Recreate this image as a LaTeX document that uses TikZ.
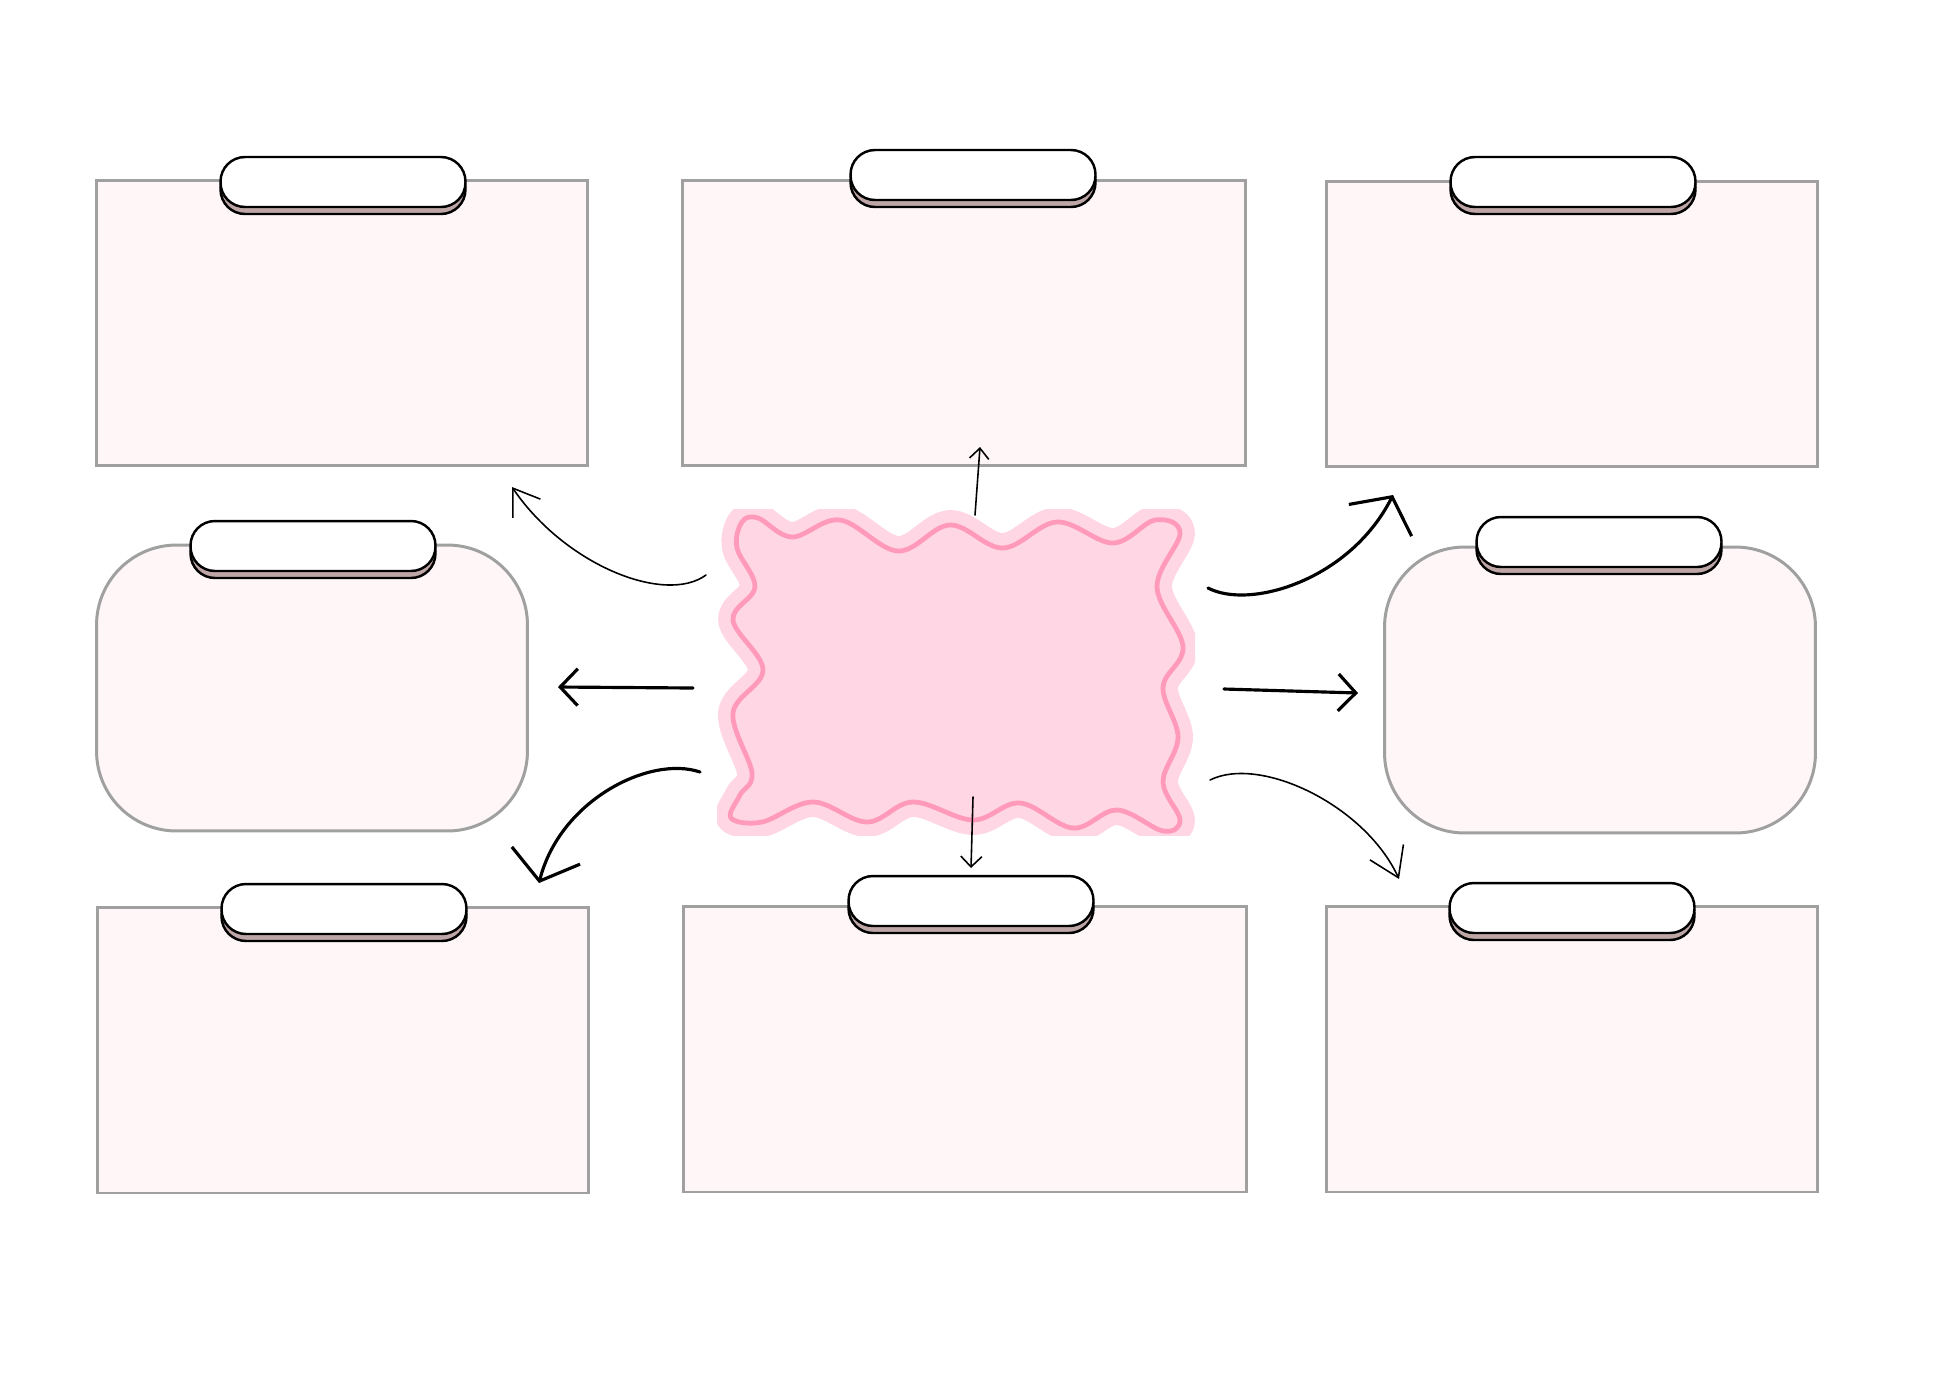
\documentclass[tikz,border=0pt]{standalone}
\usetikzlibrary{arrows.meta}
\definecolor{cardfill}{RGB}{254,246,247}
\definecolor{cardline}{RGB}{160,160,160}
\definecolor{shadecol}{RGB}{191,166,166}
\definecolor{blobpink}{RGB}{255,214,228}
\definecolor{blobrose}{RGB}{255,154,187}
\begin{document}
\begin{tikzpicture}[x=0.02cm,y=-0.02cm]

    \tikzset{
      card/.style={
        draw=cardline,
        fill=cardfill,
        line width=1.7pt,
        inner sep=0pt,
        minimum width=9.84cm,
        minimum height=5.72cm,
      },
      widecard/.style={card, minimum width=11.26cm},
      roundcard/.style={card, minimum width=8.62cm, rounded corners=1.6cm},
      tab/.style={
        draw=black,
        fill=white,
        line width=1.4pt,
        inner sep=0pt,
        minimum width=4.9cm,
        minimum height=1cm,
        rounded corners=0.49cm,
      },
      tabshade/.style={tab, fill=shadecol},
      blobband/.style={draw=blobpink, fill=blobpink, line width=17pt, line join=round},
      blobline/.style={draw=blobrose, line width=2.7pt},
      thinline/.style={line width=0.9pt, line cap=round},
      thickline/.style={line width=1.8pt, line cap=round},
      barb/.style 2 args={-{Straight Barb[length=#1,width=#2]}},
    }
    \useasboundingbox (0,0) rectangle (1946,1377);

	% cards
	\node[card] (nw) at (342,323) {};
	\node[widecard] (n) at (964,323) {};
	\node[card] (ne) at (1572,324) {};
	\node[roundcard] (w) at (312,688) {};
	\node[roundcard] (e) at (1600,690) {};
	\node[card] (sw) at (343,1050) {};
	\node[widecard] (s) at (965,1049) {};
	\node[card] (se) at (1572,1049) {};

	% tabs
	\foreach \x/\y/\n in {343/182/nw, 973/175/n, 1573/182/ne, 313/546/w, 1599/542/e, 344/909/sw, 971/901/s, 1572/908/se}{
	  \node[tabshade] (\n-shade) at (\x,\y+7) {};
	  \node[tab] (\n-tab) at (\x,\y) {};
	}

	% wavy centre
	\begin{scope}
	  \clip (717,509) rectangle (1195,835);
	  \foreach \look in {blobband, blobline}
	    \draw[\look] plot[smooth cycle, tension=0.6] coordinates {
	      (737,548) (742,522) (758,518) (792,537) (840,520) (898,551) (950,525)
	      (1003,548) (1057,522) (1113,543) (1155,520) (1180,533) (1157,587)
	      (1183,647) (1163,687) (1178,737) (1163,782) (1180,820) (1163,831)
	      (1117,810) (1073,828) (1020,803) (973,820) (913,802) (867,822)
	      (813,802) (762,822) (731,818) (740,795) (752,773) (733,713) (763,670)
	      (733,620) (755,587)};
	\end{scope}

	% arrows
	\coordinate (from-n) at (975,515);   \coordinate (to-n) at (980,447);
	\coordinate (from-s) at (973,797);   \coordinate (to-s) at (971,868);
	\coordinate (from-w) at (693,688);   \coordinate (to-w) at (558,687);
	\coordinate (from-e) at (1224,689);  \coordinate (to-e) at (1358,693);
	\coordinate (from-nw) at (706,575);  \coordinate (to-nw) at (512,487);
	\coordinate (from-sw) at (700,772);  \coordinate (to-sw) at (539,883);
	\coordinate (from-ne) at (1208,588); \coordinate (to-ne) at (1393,495);
	\coordinate (from-se) at (1210,780); \coordinate (to-se) at (1399,879);

	\draw[thinline, barb={6pt}{11pt}] (from-n) -- (to-n);
	\draw[thinline, barb={6pt}{12pt}] (from-s) -- (to-s);
	\draw[thickline, barb={10pt}{21pt}] (from-w) -- (to-w);
	\draw[thickline, barb={10pt}{21pt}] (from-e) -- (to-e);
	\draw[thinline, barb={14pt}{19pt}] (from-nw) .. controls (665,605) and (565,565) .. (to-nw);
	\draw[thickline, barb={15pt}{40pt}] (from-sw) .. controls (650,755) and (560,800) .. (to-sw);
	\draw[thickline, barb={15pt}{40pt}] (from-ne) .. controls (1250,610) and (1350,580) .. (to-ne);
	\draw[thinline, barb={16pt}{21pt}] (from-se) .. controls (1260,755) and (1365,805) .. (to-se);

\end{tikzpicture}
\end{document}
